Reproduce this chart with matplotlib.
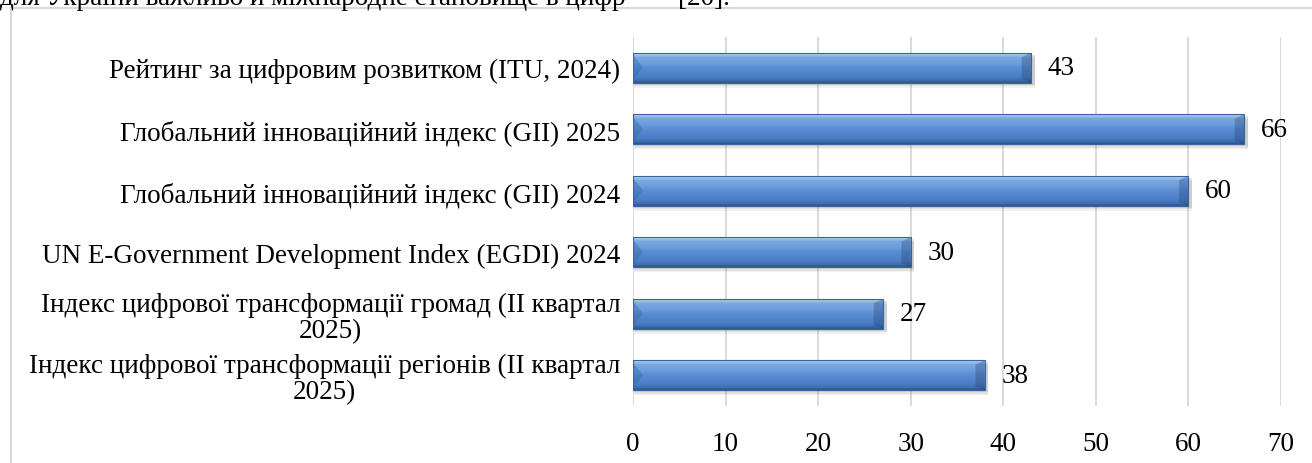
import matplotlib
matplotlib.use("Agg")
import matplotlib.pyplot as plt
import numpy as np
from matplotlib.colors import LinearSegmentedColormap
from matplotlib.patches import Polygon, Rectangle

categories = [
    "Рейтинг за цифровим розвитком (ITU, 2024)",
    "Глобальний інноваційний індекс (GII) 2025",
    "Глобальний інноваційний індекс (GII) 2024",
    "UN E-Government Development Index (EGDI) 2024",
    "Індекс цифрової трансформації громад (ІІ квартал\n2025)",
    "Індекс цифрової трансформації регіонів (ІІ квартал\n2025)",
]
values = [43, 66, 60, 30, 27, 38]
xticks = [0, 10, 20, 30, 40, 50, 60, 70]

FONT = ["Liberation Serif", "DejaVu Serif"]
FS = 19.5
plt.rcParams["font.family"] = FONT

W, H = 1312, 464
fig = plt.figure(figsize=(W / 100, H / 100), dpi=100)

# outer chart frame (partially cropped)
fig.patches.append(Rectangle((11 / W, -0.05), 1.1, 1 - 9 / H + 0.05,
                             transform=fig.transFigure, fill=False,
                             edgecolor="#D9D9D9", linewidth=1.5))
# cropped document text above the chart
fig.text(0 / W, 1 - 5 / H, "для України важливо й міжнародне становище в цифр",
         fontsize=FS, va="baseline", ha="left", family=FONT)
fig.text(678 / W, 1 - 5 / H, "[20].", fontsize=FS, va="baseline",
         ha="left", family=FONT)

ax = fig.add_axes([633 / W, 1 - 407 / H, (1281 - 633) / W, (407 - 38) / H])

n = len(categories)
pos = np.arange(n)[::-1]  # first category on top
bars = ax.barh(pos, values, height=0.49, color="#4F81BD", zorder=3)

ax.set_xlim(0, 70)
ax.set_ylim(-0.5, n - 0.5)
ax.set_xticks(xticks)
ax.set_xticklabels([str(t) for t in xticks], fontsize=FS)
ax.set_yticks(pos)
ax.set_yticklabels(categories, fontsize=FS, linespacing=1.05)
for lab in ax.get_yticklabels():
    lab.set_multialignment("center")
ax.tick_params(axis="both", length=0)
ax.tick_params(axis="y", pad=9)
ax.tick_params(axis="x", pad=18)
for s in ax.spines.values():
    s.set_visible(False)
ax.xaxis.grid(True, color="#D9D9D9", linewidth=1.4, zorder=0)
ax.set_axisbelow(True)

# gradient "3D" bar style
cmap = LinearSegmentedColormap.from_list("bar", [
    (0.0, "#8DB3E2"), (0.07, "#A9C9EF"), (0.18, "#78A6E0"),
    (0.34, "#6F9FDD"), (0.5, "#5B8FD3"), (0.8, "#4A7EC5"),
    (0.92, "#3F6DB0"), (1.0, "#2E5288")])
grad = np.linspace(0, 1, 256).reshape(-1, 1)
bev = 1.0
for b in bars:
    x0, y0 = b.get_x(), b.get_y()
    w, h = b.get_width(), b.get_height()
    # soft shadow
    for k, a in [(0.08, 0.10), (0.055, 0.14), (0.03, 0.20)]:
        ax.add_patch(Rectangle((x0 + 0.15, y0 - k), w + 0.25, h,
                               facecolor="#808080", alpha=a, linewidth=0,
                               zorder=2))
    im = ax.imshow(grad, cmap=cmap, aspect="auto", origin="upper",
                   extent=(x0, x0 + w, y0, y0 + h), zorder=4,
                   interpolation="bilinear")
    im.set_clip_path(b)
    ym = y0 + h / 2
    ax.add_patch(Polygon([(x0, y0 + h * 0.92), (x0 + bev * 1.1, ym), (x0, y0 + h * 0.1)],
                         closed=True, facecolor="#2F5FA0", alpha=0.35,
                         linewidth=0, zorder=5))
    ax.add_patch(Polygon([(x0 + w, y0 + h), (x0 + w - bev, y0 + h * 0.85),
                          (x0 + w - bev, y0 + h * 0.12), (x0 + w, y0)],
                         closed=True, facecolor="#1F3B66", alpha=0.30,
                         linewidth=0, zorder=5))
    ax.add_patch(Rectangle((x0, y0), w, h, fill=False, edgecolor="#3A64A0",
                           linewidth=0.8, zorder=6))
    ax.annotate(f"{w:g}", xy=(x0 + w, ym), xytext=(12, 0),
                textcoords="offset points", va="center", ha="left",
                fontsize=FS, zorder=7)

fig.savefig("out.png", dpi=100)
